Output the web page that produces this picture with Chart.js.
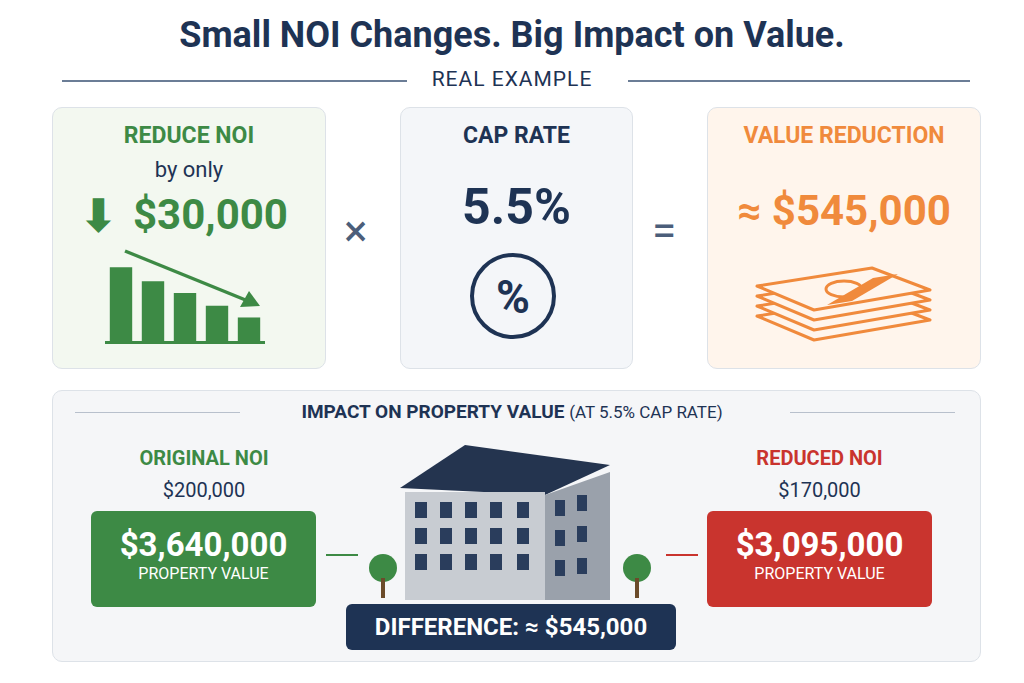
<!DOCTYPE html>
<html><head><meta charset="utf-8">
<script src="https://cdn.jsdelivr.net/npm/chart.js@4/dist/chart.umd.min.js"></script>
<style>
body{margin:0;width:1024px;height:683px;background:#fff;font-family:Roboto,"Open Sans",sans-serif;position:relative;overflow:hidden}
.a{position:absolute}
.t{left:0;width:1024px;text-align:center}
.card{position:absolute;border:1.5px solid #dde2e8;border-radius:10px}
.pill{position:absolute;border-radius:6px;color:#fff;text-align:center}
</style></head><body>
<div class="a t" style="top:14px;font-size:36px;font-weight:700;color:#1e3354">Small NOI Changes. Big Impact on Value.</div>
<div class="a" style="left:62px;top:80px;width:345px;height:1.5px;background:#6b7d96"></div>
<div class="a" style="left:628px;top:80px;width:342px;height:1.5px;background:#6b7d96"></div>
<div class="a t" style="top:67px;font-size:21px;color:#1e3354;letter-spacing:1px">REAL EXAMPLE</div>

<div class="card" style="left:52px;top:107px;width:272px;height:260px;background:#f3f8f0"></div>
<div class="a" style="left:52px;width:274px;top:122px;text-align:center;font-size:23px;font-weight:700;color:#3d8a45">REDUCE NOI</div>
<div class="a" style="left:52px;width:274px;top:157px;text-align:center;font-size:22px;color:#1e3354">by only</div>
<div class="a" style="left:80px;top:190px;font-size:44px;font-weight:700;color:#3d8a45">⬇</div>
<div class="a" style="left:133px;top:190px;font-size:42px;font-weight:700;color:#3d8a45">$30,000</div>
<div class="a" style="left:105px;top:262px;width:160px;height:88px"><canvas id="c"></canvas></div>
<svg class="a" style="left:120px;top:245px" width="145" height="65"><line x1="5" y1="6" x2="128" y2="56" stroke="#3d8a45" stroke-width="3.5"/><polygon points="140,61 120,62 129,46" fill="#3d8a45"/></svg>

<div class="a" style="left:344px;top:205px;font-size:44px;color:#4b5e7a">×</div>
<div class="card" style="left:400px;top:107px;width:231px;height:260px;background:#f4f6f9"></div>
<div class="a" style="left:400px;width:233px;top:122px;text-align:center;font-size:23px;font-weight:700;color:#1e3354">CAP RATE</div>
<div class="a" style="left:400px;width:233px;top:178px;text-align:center;font-size:50px;font-weight:700;color:#1e3354">5.5%</div>
<div class="a" style="left:470px;top:253px;width:86px;height:86px;border:4px solid #1e3354;border-radius:50%;box-sizing:border-box;text-align:center;line-height:80px;font-size:46px;font-weight:700;color:#1e3354">%</div>
<div class="a" style="left:652px;top:205px;font-size:44px;color:#4b5e7a">=</div>

<div class="card" style="left:707px;top:107px;width:272px;height:260px;background:#fff5ec"></div>
<div class="a" style="left:707px;width:274px;top:122px;text-align:center;font-size:23px;font-weight:700;color:#f08a3c">VALUE REDUCTION</div>
<div class="a" style="left:707px;width:274px;top:186px;text-align:center;font-size:42px;font-weight:700;color:#f08a3c">≈ $545,000</div>
<svg class="a" style="left:752px;top:258px" width="185" height="92" fill="#fff5ec" stroke="#f08a3c" stroke-width="3" stroke-linejoin="round">
<polygon points="5,58 120,40 178,62 62,82"/>
<polygon points="5,48 120,30 178,52 62,72"/>
<polygon points="5,38 120,20 178,42 62,62"/>
<polygon points="5,28 120,10 178,32 62,52"/>
<ellipse cx="92" cy="31" rx="18" ry="8"/>
<polygon points="75,47 100,43 146,16 121,20" fill="#f08a3c" stroke="none"/>
</svg>

<div class="card" style="left:52px;top:390px;width:927px;height:270px;background:#f5f6f8"></div>
<div class="a" style="left:75px;top:412px;width:165px;height:1px;background:#b8c0cc"></div>
<div class="a" style="left:790px;top:412px;width:165px;height:1px;background:#b8c0cc"></div>
<div class="a t" style="top:400px;font-size:19px;font-weight:700;color:#1e3354">IMPACT ON PROPERTY VALUE <span style="font-weight:400;font-size:17px">(AT 5.5% CAP RATE)</span></div>
<div class="a" style="left:92px;width:224px;top:446px;text-align:center;font-size:20px;font-weight:700;color:#3d8a45">ORIGINAL NOI</div>
<div class="a" style="left:92px;width:224px;top:478px;text-align:center;font-size:20px;color:#1e3354">$200,000</div>
<div class="pill" style="left:91px;top:511px;width:225px;height:96px;background:#3d8a45"><div style="font-size:33px;font-weight:700;margin-top:14px">$3,640,000</div><div style="font-size:16px">PROPERTY VALUE</div></div>
<div class="a" style="left:707px;width:225px;top:446px;text-align:center;font-size:20px;font-weight:700;color:#c9342e">REDUCED NOI</div>
<div class="a" style="left:707px;width:225px;top:478px;text-align:center;font-size:20px;color:#1e3354">$170,000</div>
<div class="pill" style="left:707px;top:511px;width:225px;height:96px;background:#c9342e"><div style="font-size:33px;font-weight:700;margin-top:14px">$3,095,000</div><div style="font-size:16px">PROPERTY VALUE</div></div>
<div class="a" style="left:326px;top:554px;width:32px;height:2px;background:#3d8a45"></div>
<div class="a" style="left:666px;top:554px;width:32px;height:2px;background:#c9342e"></div>
<svg class="a" style="left:365px;top:440px" width="300" height="165">
<polygon points="35,48 100,5 245,25 180,55" fill="#24344f"/>
<rect x="40" y="52" width="140" height="108" fill="#c8ccd2"/><polygon points="180,55 245,32 245,160 180,160" fill="#9aa1ab"/>
<g fill="#2a3d5c">
<rect x="50" y="62" width="12" height="16"/><rect x="75" y="62" width="12" height="16"/><rect x="100" y="62" width="12" height="16"/><rect x="125" y="62" width="12" height="16"/><rect x="152" y="62" width="12" height="16"/>
<rect x="50" y="88" width="12" height="16"/><rect x="75" y="88" width="12" height="16"/><rect x="100" y="88" width="12" height="16"/><rect x="125" y="88" width="12" height="16"/><rect x="152" y="88" width="12" height="16"/>
<rect x="50" y="114" width="12" height="16"/><rect x="75" y="114" width="12" height="16"/><rect x="100" y="114" width="12" height="16"/><rect x="125" y="114" width="12" height="16"/><rect x="152" y="114" width="12" height="16"/>
<rect x="190" y="60" width="10" height="16"/><rect x="212" y="55" width="10" height="16"/><rect x="190" y="90" width="10" height="16"/><rect x="212" y="86" width="10" height="16"/><rect x="190" y="120" width="10" height="16"/><rect x="212" y="118" width="10" height="16"/></g>
<circle cx="18" cy="128" r="14" fill="#3d8a45"/><rect x="16" y="138" width="4" height="20" fill="#6b4b2a"/>
<circle cx="272" cy="128" r="14" fill="#3d8a45"/><rect x="270" y="138" width="4" height="20" fill="#6b4b2a"/></svg>
<div class="pill" style="left:346px;top:604px;width:330px;height:46px;background:#1e3354;line-height:46px;font-size:24px;font-weight:700">DIFFERENCE: ≈ $545,000</div>
<script>
const barLabels=["1","2","3","4","5"];
const barValues=[70,57,46,34,23];
new Chart(document.getElementById('c'),{type:'bar',data:{labels:barLabels,datasets:[{data:barValues,backgroundColor:'#3d8a45',barPercentage:0.7,categoryPercentage:1}]},
options:{responsive:true,maintainAspectRatio:false,animation:false,plugins:{legend:{display:false},tooltip:{enabled:false}},
scales:{x:{display:true,grid:{display:false},ticks:{display:false},border:{color:'#3d8a45',width:3}},y:{display:false,min:0,max:75}},layout:{padding:0}}});
</script>
</body></html>
